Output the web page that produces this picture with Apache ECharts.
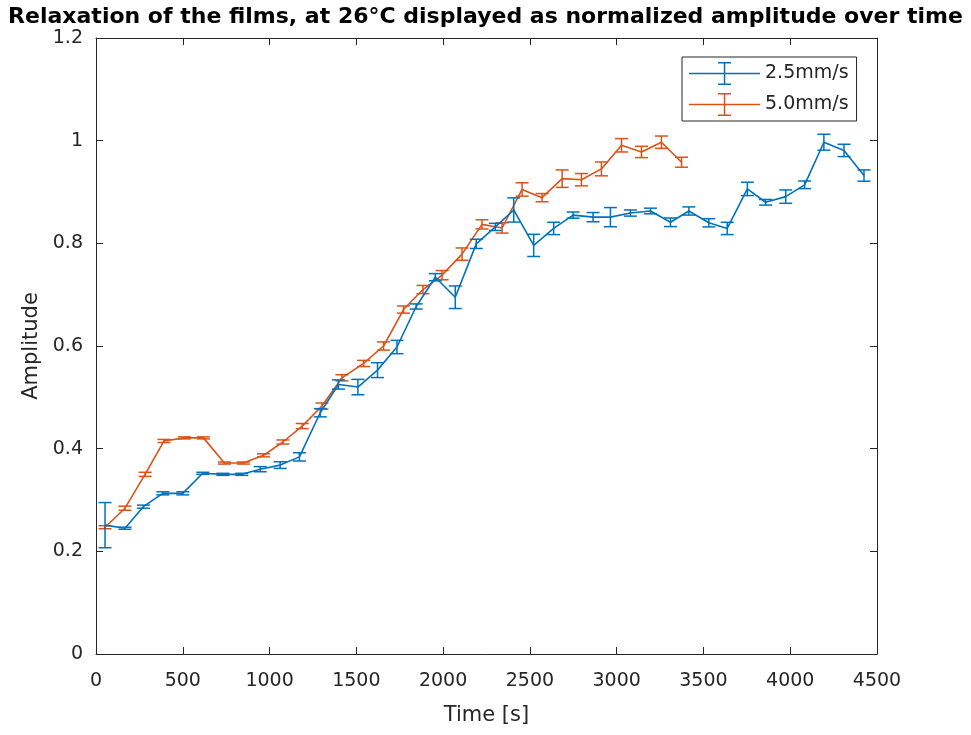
<!DOCTYPE html>
<html>
	<head>
		<meta charset="UTF-8">
		<title>Relaxation of the films</title>
		<script src="https://cdn.jsdelivr.net/npm/echarts@6/dist/echarts.min.js" type="text/javascript" charset="utf-8"></script>
		<style>
			html, body { margin: 0; padding: 0; background: #fff; }
			#chart { width: 971px; height: 735px; }
		</style>
	</head>
	<body>
		<div id="chart"></div>
	</body>
</html>
<script type="text/javascript">
	// 2.5mm/s series: time [s], amplitude, error (half length)
	var timeBlue = [52, 167, 273, 385, 500, 615, 731, 840, 946, 1061,
	                1172, 1292, 1397, 1509, 1622, 1734, 1845, 1955, 2070, 2191,
	                2301, 2407, 2522, 2637, 2749, 2864, 2964, 3079, 3195, 3310,
	                3416, 3531, 3637, 3753, 3858, 3974, 4083, 4194, 4310, 4425];
	var ampBlue = [0.251, 0.245, 0.287, 0.313, 0.313, 0.352, 0.350, 0.350, 0.360, 0.368,
	               0.384, 0.470, 0.525, 0.520, 0.553, 0.598, 0.677, 0.734, 0.695, 0.799,
	               0.832, 0.865, 0.796, 0.829, 0.855, 0.851, 0.851, 0.859, 0.863, 0.841,
	               0.863, 0.840, 0.829, 0.906, 0.880, 0.891, 0.914, 0.997, 0.981, 0.932];
	var errBlue = [0.044, 0.002, 0.003, 0.003, 0.003, 0.002, 0.002, 0.002, 0.005, 0.0065,
	               0.008, 0.008, 0.009, 0.015, 0.0145, 0.013, 0.005, 0.007, 0.022, 0.009,
	               0.007, 0.0236, 0.0216, 0.012, 0.006, 0.009, 0.0187, 0.006, 0.0055, 0.0084,
	               0.008, 0.008, 0.012, 0.013, 0.0055, 0.013, 0.0074, 0.0155, 0.012, 0.011];

	// 5.0mm/s series
	var timeOrange = [52, 167, 283, 392, 509, 619, 740, 849, 965, 1077,
	                  1188, 1302, 1417, 1542, 1657, 1772, 1884, 1994, 2109, 2224,
	                  2340, 2455, 2570, 2686, 2797, 2912, 3028, 3143, 3258, 3374];
	var ampOrange = [0.247, 0.284, 0.350, 0.415, 0.421, 0.421, 0.372, 0.372, 0.387, 0.413,
	                 0.444, 0.483, 0.538, 0.566, 0.600, 0.671, 0.710, 0.738, 0.779, 0.837,
	                 0.830, 0.905, 0.889, 0.926, 0.924, 0.945, 0.991, 0.978, 0.997, 0.958];
	var errOrange = [0.003, 0.004, 0.004, 0.003, 0.002, 0.002, 0.002, 0.002, 0.003, 0.004,
	                 0.005, 0.006, 0.006, 0.006, 0.008, 0.007, 0.008, 0.009, 0.012, 0.009,
	                 0.010, 0.013, 0.008, 0.017, 0.012, 0.0135, 0.013, 0.011, 0.012, 0.0097];

	var seriesNames = ['2.5mm/s', '5.0mm/s'];
	var colors = ['#0072BD', '#D95319'];

	function toLine(t, a) {
		return t.map(function (x, i) { return [x, a[i]]; });
	}
	function toErr(t, a, e) {
		return t.map(function (x, i) { return [x, a[i] - e[i], a[i] + e[i]]; });
	}

	// error bar with caps, drawn through the axes
	function renderErrorBar(params, api) {
		var x = api.value(0);
		var lo = api.coord([x, api.value(1)]);
		var hi = api.coord([x, api.value(2)]);
		var half = 6.5;
		var style = { stroke: api.visual('color'), lineWidth: 1.5, fill: null };
		return {
			type: 'group',
			children: [
				{ type: 'line', shape: { x1: lo[0], y1: lo[1], x2: hi[0], y2: hi[1] }, style: style },
				{ type: 'line', shape: { x1: lo[0] - half, y1: lo[1], x2: lo[0] + half, y2: lo[1] }, style: style },
				{ type: 'line', shape: { x1: hi[0] - half, y1: hi[1], x2: hi[0] + half, y2: hi[1] }, style: style }
			]
		};
	}

	// legend icon: line with an error bar
	var legendIcon = 'path://M0,10.8 H71 V12.3 H0 Z M34.8,0 H36.3 V23 H34.8 Z ' +
	                 'M29,0 H42 V1.5 H29 Z M29,21.5 H42 V23 H29 Z';

	var axisColor = '#262626';
	var font = 'DejaVu Sans';

	// shared look of the four spines (box around the plot)
	function spine(extra) {
		var a = {
			type: 'value',
			axisLine: { show: true, onZero: false, lineStyle: { color: axisColor, width: 1 } },
			axisTick: { show: true, inside: true, length: 7, lineStyle: { color: axisColor } },
			splitLine: { show: false }
		};
		for (var k in extra) a[k] = extra[k];
		return a;
	}

	var chart = echarts.init(document.getElementById('chart'));

	var option = {
		animation: false,
		backgroundColor: '#ffffff',
		title: {
			text: 'Relaxation of the films, at 26°C displayed as normalized amplitude over time',
			left: 'center',
			top: 1,
			textStyle: {
				fontFamily: font,
				fontSize: 22,
				fontWeight: 'bold',
				color: '#000000'
			}
		},
		legend: {
			orient: 'vertical',
			left: 682,
			top: 57,
			padding: [5, 8, 5, 7],
			itemWidth: 71,
			itemHeight: 23,
			itemGap: 8,
			icon: legendIcon,
			borderColor: axisColor,
			borderWidth: 1,
			backgroundColor: '#ffffff',
			itemStyle: { borderWidth: 0 },
			textStyle: { fontFamily: font, fontSize: 19, color: '#262626' },
			data: seriesNames
		},
		grid: {
			left: 96,
			right: 94,
			top: 38,
			bottom: 81
		},
		xAxis: [
			spine({
				position: 'bottom',
				min: 0,
				max: 4500,
				interval: 500,
				name: 'Time [s]',
				nameLocation: 'middle',
				nameGap: 51,
				nameTextStyle: { fontFamily: font, fontSize: 21, color: '#262626' },
				axisLabel: {
					fontFamily: font, fontSize: 19, color: '#262626', margin: 18,
					formatter: function (v) { return String(v); }
				}
			}),
			spine({
				position: 'top',
				min: 0,
				max: 4500,
				interval: 500,
				axisLabel: { show: false }
			})
		],
		yAxis: [
			spine({
				position: 'left',
				min: 0,
				max: 1.2,
				interval: 0.2,
				name: 'Amplitude',
				nameLocation: 'middle',
				nameGap: 52,
				nameTextStyle: { fontFamily: font, fontSize: 21, color: '#262626' },
				axisLabel: { fontFamily: font, fontSize: 19, color: '#262626', margin: 13 }
			}),
			spine({
				position: 'right',
				min: 0,
				max: 1.2,
				interval: 0.2,
				axisLabel: { show: false }
			})
		],
		series: [{
			name: seriesNames[0],
			type: 'line',
			showSymbol: false,
			color: colors[0],
			lineStyle: { width: 1.6, color: colors[0] },
			data: toLine(timeBlue, ampBlue),
			z: 3
		}, {
			name: seriesNames[0],
			type: 'custom',
			renderItem: renderErrorBar,
			itemStyle: { color: colors[0] },
			encode: { x: 0, y: [1, 2] },
			data: toErr(timeBlue, ampBlue, errBlue),
			z: 3
		}, {
			name: seriesNames[1],
			type: 'line',
			showSymbol: false,
			color: colors[1],
			lineStyle: { width: 1.6, color: colors[1] },
			data: toLine(timeOrange, ampOrange),
			z: 2
		}, {
			name: seriesNames[1],
			type: 'custom',
			renderItem: renderErrorBar,
			itemStyle: { color: colors[1] },
			encode: { x: 0, y: [1, 2] },
			data: toErr(timeOrange, ampOrange, errOrange),
			z: 2
		}]
	};

	chart.setOption(option);
</script>
